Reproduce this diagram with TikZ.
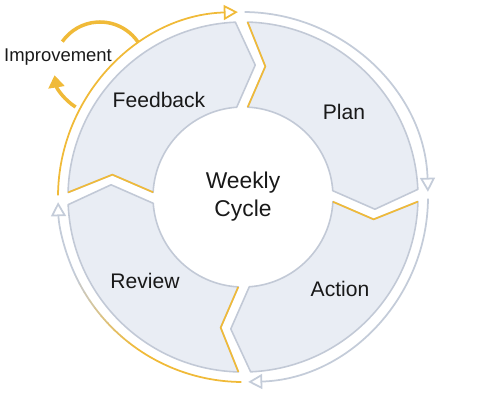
\documentclass[tikz,border=0pt]{standalone}
\usepackage{fontspec}
\setmainfont{Liberation Sans}
\usetikzlibrary{arrows.meta}

\definecolor{ringgold}{RGB}{240,186,56}
\definecolor{ringgray}{RGB}{196,204,217}
\definecolor{segfill}{RGB}{233,237,244}
\definecolor{segline}{RGB}{194,201,214}
\definecolor{textdark}{RGB}{25,25,25}

\begin{document}
\begin{tikzpicture}[
    x=0.02cm, y=0.02cm,
    % Style definitions
    segment/.style={draw=segline, fill=segfill, line width=0.9pt, line join=round},
    notch/.style={draw=ringgold, line width=0.95pt, line join=round},
    ring/.style={line width=1pt,
                 -{Triangle[open, length=8pt, width=8.5pt, line width=1pt]}},
    improve/.style={draw=ringgold, line width=2pt},
    stagetext/.style={font=\fontsize{12}{14}\selectfont, text=textdark},
    hubtext/.style={font=\fontsize{13}{16}\selectfont, text=textdark, align=center},
]

\useasboundingbox (-243,-203) rectangle (236,197);

% Segments (clockwise: Plan, Action, Review, Feedback)
\path[segment] (88.5:175) arc[start angle=88.5, end angle=2.5, radius=175]
    -- (-5.3:132.5) -- (4:90) arc[start angle=4, end angle=87, radius=90] -- (80.3:132.5) -- cycle;
\draw[notch] (88.5:175) -- (80.3:132.5) -- (87:90);

\path[segment] (-1.5:175) arc[start angle=-1.5, end angle=-87.5, radius=175]
    -- (-95.3:132.5) -- (-86:90) arc[start angle=-86, end angle=-3, radius=90] -- (-9.7:132.5) -- cycle;
\draw[notch] (-1.5:175) -- (-9.7:132.5) -- (-3:90);

\path[segment] (-91.5:175) arc[start angle=-91.5, end angle=-177.5, radius=175]
    -- (-185.3:132.5) -- (-176:90) arc[start angle=-176, end angle=-93, radius=90] -- (-99.7:132.5) -- cycle;
\draw[notch] (-91.5:175) -- (-99.7:132.5) -- (-93:90);

\path[segment] (178.5:175) arc[start angle=178.5, end angle=92.5, radius=175]
    -- (84.7:132.5) -- (94:90) arc[start angle=94, end angle=177, radius=90] -- (170.3:132.5) -- cycle;
\draw[notch] (178.5:175) -- (170.3:132.5) -- (177:90);

% Outer ring arrows
\draw[ring, draw=ringgold] (179.5:185) arc[start angle=179.5, end angle=91.6, radius=185];
\draw[ring, draw=ringgray] (89.5:185) arc[start angle=89.5, end angle=1.6, radius=185];
\draw[ring, draw=ringgray] (-0.5:185) arc[start angle=-0.5, end angle=-88.4, radius=185];
\draw[line width=1pt, draw=ringgold] (-90.5:185) arc[start angle=-90.5, end angle=-125, radius=185];
\foreach \k in {0,...,9} {
    \pgfmathtruncatemacro\mix{95-10*\k}
    \draw[line width=1pt, draw=ringgold!\mix!ringgray]
        (-125-3*\k:185) arc[start angle=-125-3*\k, end angle=-128.2-3*\k, radius=185];
}
\draw[ring, draw=ringgray] (-155:185) arc[start angle=-155, end angle=-178.4, radius=185];

% Improvement loop
\coordinate (loop) at (-143,129);
\draw[improve] (loop) ++(34:46) arc[start angle=34, end angle=145, radius=46];
\draw[improve, -{Triangle[length=7pt, width=9pt]}] (loop) ++(238:46) arc[start angle=238, end angle=189, radius=46];
\node[font=\fontsize{10.5}{12}\selectfont, text=textdark] (improvement) at (-185,140) {Improvement};

% Labels
\node[hubtext] (hub) at (0,0) {Weekly\\Cycle};
\node[stagetext] (feedback) at (-84,97) {Feedback};
\node[stagetext] (plan) at (101,85) {Plan};
\node[stagetext] (action) at (97,-92) {Action};
\node[stagetext] (review) at (-98,-84) {Review};

\end{tikzpicture}
\end{document}
